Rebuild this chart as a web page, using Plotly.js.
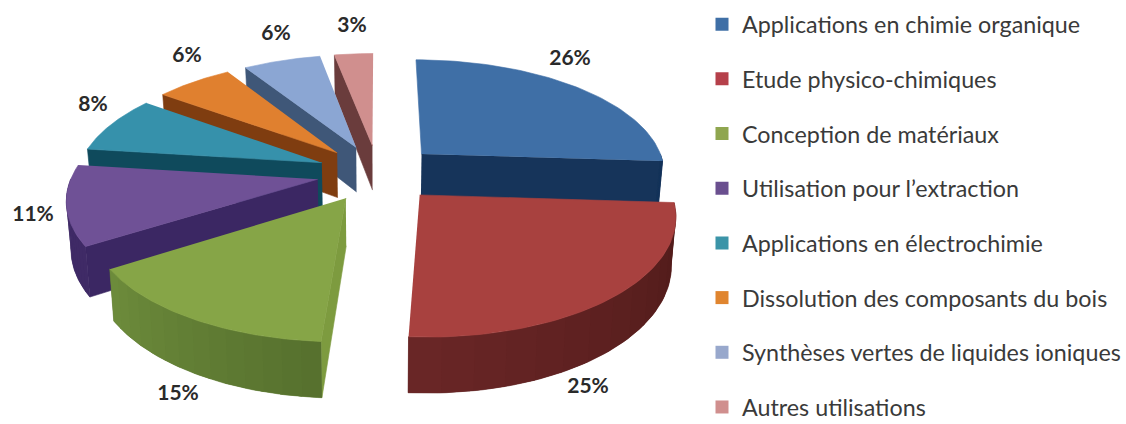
<!DOCTYPE html>
<html>
<head>
<meta charset="utf-8">
<script src="https://cdn.plot.ly/plotly-3.0.1.min.js"></script>
<style>html,body{margin:0;padding:0;background:#fff;overflow:hidden;height:424px}#wrap{width:1126px;height:424px;overflow:hidden}#chart{width:1126px;height:450px}</style>
</head>
<body>
<div id="wrap"><div id="chart"></div></div>
<script>
// Data
const categories = ["Applications en chimie organique","Etude physico-chimiques","Conception de matériaux","Utilisation pour l’extraction","Applications en électrochimie","Dissolution des composants du bois","Synthèses vertes de liquides ioniques","Autres utilisations"];
const shares = [26,25,15,11,8,6,6,3];

// Styles
const topColors  = ["#3f6fa6","#a8413f","#86a547","#6f5196","#3691ab","#e0802f","#8ba6d3","#d08f8e"];
const rimStart   = [[22,52,90],[78,26,24],[86,112,46],[63,42,102],[15,77,94],[138,66,18],[63,87,120],[110,64,64]];
const rimEnd     = [[22,52,90],[106,38,38],[109,140,59],[63,42,102],[15,77,94],[138,66,18],[63,87,120],[110,64,64]];
const sideColors = ["#16345a","#5c1f1f","#7d9b3f","#3b2763","#0f4a5c","#7f3d10","#3f5778","#6a3c3c"];
const legendColors = ["#3f6fa6","#b5404a","#8fa64f","#6a4f8f","#3b94a8","#e0852f","#98a8cc","#d08f8e"];

// 3D projection settings for the exploded pie (pixels)
const cx = 378, cy = 173, R = 245, Rv = 113.6, persp = 0.15, explode = 0.25, depth = 46, shrink = 0.985;
const drawOrder = [7,6,5,4,3,2,0,1];
const plotHeight = 450, rimBands = 14;

// Label positions (pixels)
const labelX = [570,588,178,33,93,187,276,352];
const labelY = [60,388,395,216,106,57,35,27];

const total = shares.reduce((a,b)=>a+b,0);
let acc = 0;
const slices = shares.map(v=>{const a=acc/total*360; acc+=v; return {a, b:acc/total*360};});
const rad = d=>d*Math.PI/180;

function proj(X,Y,low){
  const s = 1/(1+persp*Y);
  let x = cx+R*X*s, y = cy-Rv*Y*s;
  if(low){ x = cx+(x-cx)*shrink; y += depth*s; }
  return [x,y];
}
function geom(sl){
  const m = rad((sl.a+sl.b)/2), ex = explode*Math.sin(m), ey = explode*Math.cos(m);
  return {
    apex: low=>proj(ex,ey,low),
    rim: (t,low)=>proj(ex+Math.sin(rad(t)),ey+Math.cos(rad(t)),low)
  };
}
function poly(pts,color,name,lineWidth){
  return {type:"scatter",mode:"lines",x:pts.map(p=>p[0]),y:pts.map(p=>p[1]),fill:"toself",fillcolor:color,
    line:{color:color,width:lineWidth},showlegend:false,hoverinfo:"text",text:name,hoveron:"fills"};
}
function rimStrip(g,t0,t1,steps){
  const u=[],d=[];
  for(let k=0;k<=steps;k++){const t=t0+(t1-t0)*k/steps; u.push(g.rim(t,false)); d.unshift(g.rim(t,true));}
  return u.concat(d);
}
const traces = [];
drawOrder.forEach(i=>{
  const sl = slices[i], g = geom(sl), name = categories[i]+": "+shares[i]+"%";
  const side = t=>poly([g.apex(false),g.rim(t,false),g.rim(t,true),g.apex(true)],sideColors[i],name,0.6);
  if(sl.a>=180) traces.push(side(sl.a));
  if(sl.b<=180) traces.push(side(sl.b));
  const t0 = Math.max(sl.a,90), t1 = Math.min(sl.b,270);
  if(t1>t0){
    const mid=rimStart[i].map((v,j)=>Math.round((v+rimEnd[i][j])/2));
    traces.push(poly(rimStrip(g,t0,t1,60),"rgb("+mid.join(",")+")",name,0.6));
    for(let n=0;n<rimBands;n++){
      const f=(n+0.5)/rimBands;
      const c=rimStart[i].map((v,j)=>Math.round(v+(rimEnd[i][j]-v)*f));
      const from=t0+(t1-t0)*n/rimBands, to=Math.min(t1,t0+(t1-t0)*(n+1.15)/rimBands);
      traces.push(poly(rimStrip(g,from,to,6),"rgb("+c.join(",")+")",name,0));
    }
  }
  const topPts=[g.apex(false)];
  for(let k=0;k<=60;k++){topPts.push(g.rim(sl.a+(sl.b-sl.a)*k/60,false));}
  traces.push(poly(topPts,topColors[i],name,0.6));
});
// Percentage labels
traces.push({type:"scatter",mode:"text",x:labelX,y:labelY,text:shares.map(v=>v+"%"),
  textfont:{family:"Lato, sans-serif",size:21,color:"#2a2a2a",weight:700},textposition:"middle center",
  showlegend:false,hoverinfo:"skip"});
// Legend entries
categories.forEach((c,i)=>traces.push({type:"scatter",mode:"markers",x:[null],y:[null],name:c,legendgroup:"g"+i,
  marker:{symbol:"square",size:13,color:legendColors[i]},showlegend:true}));

const layout = {
  width:1126,height:plotHeight,margin:{l:0,r:0,t:0,b:0,autoexpand:false},paper_bgcolor:"#fff",plot_bgcolor:"#fff",
  xaxis:{range:[0,1126],visible:false,fixedrange:true},
  yaxis:{range:[plotHeight,0],visible:false,fixedrange:true},
  legend:{x:702/1126,y:1-2.5/plotHeight,xanchor:"left",yanchor:"top",tracegroupgap:21.4,
    font:{family:"Lato, sans-serif",size:23.3,color:"#3a3a3a"},bgcolor:"rgba(0,0,0,0)",itemclick:false,itemdoubleclick:false},
  showlegend:true
};
Plotly.newPlot("chart",traces,layout,{displayModeBar:false});
</script>
</body>
</html>
